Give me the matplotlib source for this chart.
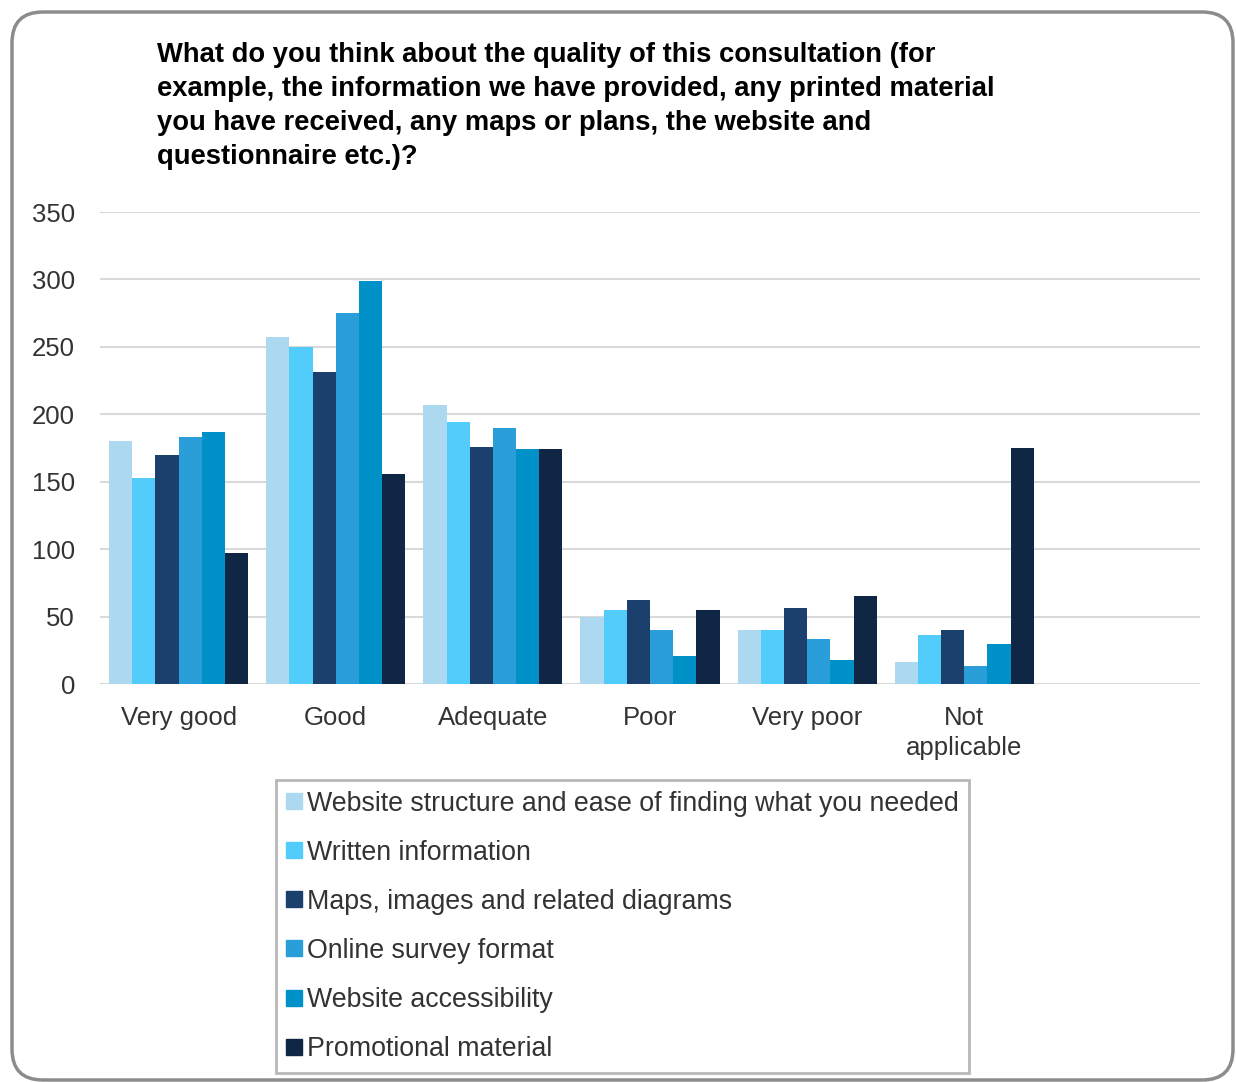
import matplotlib.pyplot as plt
from matplotlib.patches import FancyBboxPatch
from matplotlib.lines import Line2D
import numpy as np

plt.rcParams['font.family'] = ['Liberation Sans', 'DejaVu Sans']

categories = ["Very good", "Good", "Adequate", "Poor", "Very poor", "Not\napplicable", ""]
series = ["Website structure and ease of finding what you needed",
          "Written information",
          "Maps, images and related diagrams",
          "Online survey format",
          "Website accessibility",
          "Promotional material"]
website_structure = [180, 257, 207, 50, 40, 16, 0]
written_info = [153, 250, 194, 55, 40, 36, 0]
maps_images = [170, 231, 176, 62, 56, 40, 0]
online_survey = [183, 275, 190, 40, 33, 13, 0]
accessibility = [187, 299, 174, 21, 18, 30, 0]
promotional = [97, 156, 174, 55, 65, 175, 0]
colors = ["#acd9ef", "#52cdfb", "#1b406e", "#2a9ed8", "#0091c9", "#0f2744"]

values = [website_structure, written_info, maps_images, online_survey, accessibility, promotional]

fig = plt.figure(figsize=(12.36, 10.82), dpi=100)

# rounded frame
frame = FancyBboxPatch((12/1236, 1 - 1080/1082), 1221/1236, 1068/1082,
                       boxstyle="round,pad=0,rounding_size=0.025",
                       mutation_aspect=1236/1082,
                       transform=fig.transFigure, facecolor="none",
                       edgecolor="#8c8c8c", linewidth=2.5, zorder=-1)
fig.patches.append(frame)

ax = fig.add_axes([100/1236, 1 - 684/1082, 1100/1236, 472/1082])
ax.set_facecolor("none")

x = np.arange(len(categories))
n = len(series)
w = 0.885 / n
for i, (vals, name, c) in enumerate(zip(values, series, colors)):
    ax.bar(x - 0.885/2 + w*(i + 0.5), vals, width=w, color=c, label=name, zorder=3)

ax.set_xlim(-0.5, len(categories) - 0.5)
ax.set_ylim(0, 350)
ax.set_yticks(range(0, 351, 50))
ax.yaxis.grid(True, color="#d9d9d9", linewidth=1.5, zorder=0)
ax.set_axisbelow(True)
for s in ax.spines.values():
    s.set_visible(False)
ax.tick_params(axis="both", length=0, labelsize=18.5, colors="#333333")
ax.tick_params(axis="y", pad=18)
ax.tick_params(axis="x", pad=16)
ax.set_xticks(x)
ax.set_xticklabels(categories, linespacing=1.3)

fig.text(157/1236, 1 - 42/1082,
         "What do you think about the quality of this consultation (for\n"
         "example, the information we have provided, any printed material\n"
         "you have received, any maps or plans, the website and\n"
         "questionnaire etc.)?",
         fontsize=19.7, fontweight="bold", va="top", ha="left",
         linespacing=1.4, color="black")

handles = [Line2D([], [], marker="s", linestyle="none", markersize=11,
                  markerfacecolor=c, markeredgecolor=c) for c in colors]
leg = fig.legend(handles, series, loc="upper left",
                 bbox_to_anchor=(276/1236, 1 - 780/1082),
                 fontsize=19.3, frameon=True, fancybox=False,
                 handlelength=0.55, handletextpad=0.2, labelspacing=0.86,
                 borderpad=0.4, borderaxespad=0)
leg.get_frame().set_edgecolor("#a6a6a6")
leg.get_frame().set_linewidth(2)
for t in leg.get_texts():
    t.set_color("#333333")

fig.savefig("out.png", dpi=100)
